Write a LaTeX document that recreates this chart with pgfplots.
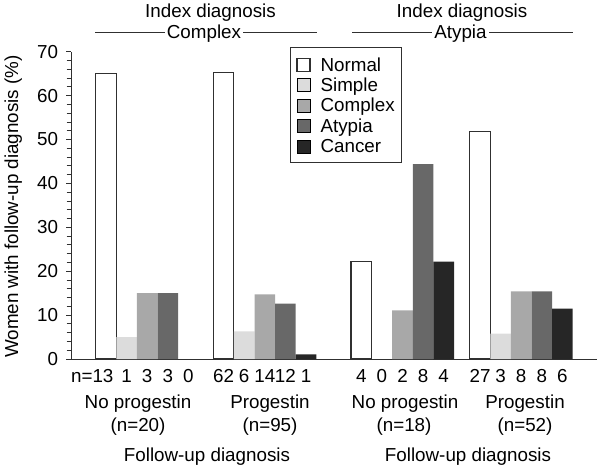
\documentclass[border=0pt]{standalone}
\usepackage{pgfplots}
\pgfplotsset{compat=1.18}
\usepackage{fontspec}
\setmainfont{Liberation Sans}
\definecolor{cSimple}{HTML}{DCDCDC}
\definecolor{cComplex}{HTML}{A8A8A8}
\definecolor{cAtypia}{HTML}{686868}
\definecolor{cCancer}{HTML}{262626}
\definecolor{cAxis}{HTML}{303030}
\pgfplotsset{legpatch/.style={legend image code/.code={\draw[##1] (0pt,-7.5pt) rectangle (13pt,5.5pt);}}}
\begin{document}
\fontsize{18.8}{22}\selectfont
\begin{tikzpicture}
\useasboundingbox (0,0) rectangle (600pt,467pt);
\begin{axis}[
  at={(71pt,108pt)}, anchor=south west,
  scale only axis, width=526pt, height=307.3pt,
  xmin=71, xmax=597, ymin=0, ymax=70,
  axis x line=bottom, axis y line=left,
  axis line style={-, line width=1pt, cAxis},
  ybar, bar shift=0pt, bar width=20.6,
  xtick={106.0,126.6,147.2,167.8,188.4,223.6,244.2,264.8,285.4,306.0,361.3,381.9,402.5,423.1,443.7,480.0,500.6,521.2,541.8,562.4},
  xticklabels={{\llap{n=}13\hspace*{6pt}},1,3,3,0,62,6,14,12,1,4,0,2,8,4,27,3,8,8,6},
  x tick style={draw=none},
  xticklabel style={anchor=base, yshift=-18pt},
  ytick={0,10,...,70}, minor y tick num=4,
  tick align=outside, major tick length=5pt, minor tick length=4.5pt,
  y tick style={line width=0.8pt, cAxis},
  yticklabel style={anchor=east, xshift=-1.5pt},
  /pgf/number format/assume math mode=true,
  legend cell align=left,
  legend style={at={(0.4163,1.0153)}, anchor=north west, draw=cAxis, line width=1pt, fill=white,
    inner xsep=6pt, inner ysep=5.5pt, row sep=-1.6pt,
    nodes={inner xsep=0.5pt, inner ysep=0pt, text height=18pt, text depth=4pt},
    /tikz/every odd column/.append style={column sep=9.5pt}},
]
\addplot[fill=white, draw=cAxis, line width=1.1pt, legpatch] coordinates {(106.0,65.0) (223.6,65.3) (361.3,22.2) (480.0,51.9)};
\addlegendentry{Normal}
\addplot[fill=cSimple, draw=none, legpatch] coordinates {(126.6,5.0) (244.2,6.3) (500.6,5.8)};
\addlegendentry{Simple}
\addplot[fill=cComplex, draw=none, legpatch] coordinates {(147.2,15.0) (264.8,14.7) (402.5,11.1) (521.2,15.4)};
\addlegendentry{Complex}
\addplot[fill=cAtypia, draw=none, legpatch] coordinates {(167.8,15.0) (285.4,12.6) (423.1,44.4) (541.8,15.4)};
\addlegendentry{Atypia}
\addplot[fill=cCancer, draw=none, legpatch] coordinates {(306.0,1.05) (443.7,22.2) (562.4,11.5)};
\addlegendentry{Cancer}
\end{axis}
% titles above
\node[anchor=base] at (210.5pt,449.7pt) {Index diagnosis};
\draw[line width=0.9pt, cAxis] (95pt,434.5pt) -- (317pt,434.5pt);
\node[anchor=base, fill=white, inner xsep=2pt, inner ysep=0pt] at (204pt,428.3pt) {Complex};
\node[anchor=base] at (462pt,449.7pt) {Index diagnosis};
\draw[line width=0.9pt, cAxis] (352pt,434.5pt) -- (573pt,434.5pt);
\node[anchor=base, fill=white, inner xsep=2pt, inner ysep=0pt] at (460.5pt,428.3pt) {Atypia};
% y label
\node[rotate=90, anchor=base] at (18pt,260.5pt) {Women with follow-up diagnosis (\%)};
% group labels
\node[anchor=base] at (138pt,58.7pt) {No progestin};
\node[anchor=base] at (138pt,35.3pt) {(n=20)};
\node[anchor=base] at (270pt,58.7pt) {Progestin};
\node[anchor=base] at (270pt,35.3pt) {(n=95)};
\node[anchor=base] at (405pt,58.7pt) {No progestin};
\node[anchor=base] at (404pt,35.3pt) {(n=18)};
\node[anchor=base] at (525pt,58.7pt) {Progestin};
\node[anchor=base] at (525pt,35.3pt) {(n=52)};
\node[anchor=base] at (207pt,5.3pt) {Follow-up diagnosis};
\node[anchor=base] at (468pt,5.3pt) {Follow-up diagnosis};
\end{tikzpicture}
\end{document}
